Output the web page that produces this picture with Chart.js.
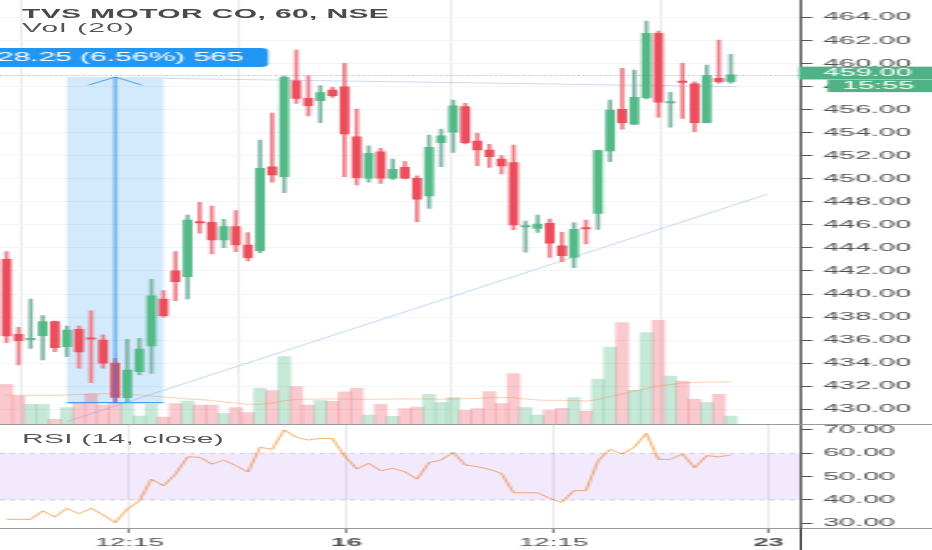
<!DOCTYPE html>
<html>
<head>
<meta charset="utf-8">
<script src="https://cdn.jsdelivr.net/npm/chart.js@4.4.1/dist/chart.umd.min.js"></script>
<style>
  html, body { margin: 0; padding: 0; background: #fff; overflow: hidden; }
  /* the reference screenshot is stretched sideways, so the whole chart is drawn narrow and scaled */
  #wrap { position: absolute; left: 0; top: 0; width: 373px; height: 550px;
          transform: scaleX(2.4987); transform-origin: 0 0;
          font-family: "Liberation Sans", Arial, sans-serif; }
  #cPrice { position: absolute; left: 0; top: 0; }
  #cRsi { position: absolute; left: 0; top: 425px; }
  .lbl { position: absolute; left: 8.8px; white-space: nowrap; line-height: 1; }
  .sep { position: absolute; left: 0; width: 373px; height: 1px; background: #9a9a9a; }
</style>
</head>
<body>
<div id="wrap">
  <canvas id="cPrice" width="373" height="425"></canvas>
  <canvas id="cRsi" width="373" height="125"></canvas>
  <div class="sep" style="top:424px"></div>
  <div class="sep" style="top:528px"></div>
  <div style="position:absolute;left:320px;top:528px;width:1px;height:22px;background:#555"></div>
  <div class="lbl" style="top:8px;font-size:12px;font-weight:bold;color:#4a4a4a;letter-spacing:0.15px">TVS MOTOR CO, 60, NSE</div>
  <div class="lbl" style="top:21.5px;font-size:12px;color:#555;letter-spacing:0.5px">Vol (20)</div>
  <div class="lbl" style="top:432.5px;font-size:12px;color:#555;letter-spacing:0.1px">RSI (14, close)</div>
</div>
<script>
// candles, one per hour
const opens  = [443.01,436.51,436.04,436.39,437.60,435.43,436.94,436.18,436.01,434.00,
                431.01,433.26,435.49,439.57,442.02,441.50,446.26,446.22,444.69,445.84,
                444.25,443.76,451.04,450.18,458.48,456.97,456.77,457.69,457.98,453.64,
                450.04,452.34,450.04,450.99,450.04,448.50,453.12,454.03,456.25,453.27,
                452.49,451.71,451.39,445.82,445.70,446.13,444.19,443.18,445.74,447.00,
                452.40,456.02,454.72,457.03,462.61,456.58,458.42,458.22,454.86,458.71,458.41];
const highs  = [443.67,437.11,439.57,438.12,437.65,437.23,437.23,438.55,436.45,434.43,
                436.07,436.16,441.28,440.29,443.67,446.85,447.96,447.63,446.48,447.23,
                445.32,453.36,455.70,458.91,461.16,458.93,458.07,457.93,460.01,456.05,
                452.86,452.64,451.71,451.48,450.24,453.79,454.31,456.83,456.54,453.94,
                452.99,452.00,452.92,446.33,446.85,446.51,445.35,446.19,446.42,452.49,
                456.83,459.58,459.43,463.68,462.81,457.50,460.01,458.41,459.86,462.03,460.79];
const lows   = [435.78,433.84,435.29,434.28,435.00,434.56,433.56,432.31,433.56,430.57,
                430.66,432.98,433.12,438.00,439.42,439.57,445.27,443.47,444.02,443.67,
                442.86,443.58,449.69,448.79,456.54,455.44,454.86,457.06,450.18,449.46,
                449.69,449.60,449.93,449.98,446.27,447.43,451.04,452.29,453.01,451.13,
                450.99,450.41,445.55,443.62,445.35,443.18,442.80,442.28,444.34,445.61,
                451.48,454.29,454.70,456.91,455.33,454.46,455.24,454.08,454.83,458.28,458.28];
const closes = [436.36,435.95,436.10,437.60,435.34,436.88,434.97,436.08,434.00,431.04,
                433.41,435.23,439.85,438.12,441.07,446.42,446.16,444.69,445.84,444.25,
                443.15,450.90,450.32,458.80,456.97,456.33,457.46,457.20,453.88,450.09,
                452.20,450.04,450.82,450.04,448.22,452.73,453.71,456.33,453.12,452.49,
                451.91,451.10,445.99,445.86,446.07,444.40,443.32,445.61,445.64,452.43,
                455.96,454.86,457.06,462.61,456.63,456.62,458.35,454.86,458.94,458.41,459.00];
// volume (thousands) and its 20-bar average
const volumes = [40.7,29,20.7,20.7,5.7,17.3,22,31,20,22,
                 21.5,9,20.7,8,21.3,24,20,20,11.5,17.3,
                 12.3,36.7,34.5,68.3,38.3,19.8,24.3,23.7,33.2,36.7,
                 10,20.7,8.7,16.5,18,30.7,22.3,27.3,14.7,16.5,
                 33.3,21.3,51.3,17.3,10,15,16.7,27.3,14,45.7,
                 78,102.3,34.7,92.3,104.7,49,44,25.7,22.3,30.7,9];
const volumeMA = [29.7,29.7,29.7,29.7,29.7,30,30.5,31,31.3,31.3,
                  31,30,29,28,27,26,25.5,24.5,23,22,
                  20.7,20.7,22,24.5,25.5,25.8,26,26,25.9,25.8,
                  25.7,25.8,26,26.1,26,25.9,25.8,26,26.3,26.5,
                  27.3,27.3,27.3,26,25,24.7,24.7,24.3,24,25.5,
                  28.5,31,34,36.5,39,40.5,42,42.5,43,43,43];
const rsiValues = [31.7,31.7,31.7,35.3,32.7,36.4,34.1,36.4,33.6,30.3,
                   36.1,39.6,48.9,46.1,51.1,58.5,58.3,55.4,57.1,54.7,
                   52.0,62.6,61.7,70.0,66.9,65.7,66.4,66.3,59.0,53.3,
                   55.7,52.5,53.6,52.1,48.9,56.0,57.1,60.4,55.0,54.3,
                   53.1,51.4,43.1,43.1,43.1,40.7,39.0,44.0,44.0,56.8,
                   61.7,59.7,62.6,68.6,57.4,57.4,59.7,53.8,59.0,58.5,59.3];

// axes
const timeTicks  = [10.17, 28.17, 45.31, 63.13];
const timeLabels = ['12:15', '16', '12:15', '23'];
const priceTicks = [430,432,434,436,438,440,442,444,446,448,450,452,454,456,458,460,462,464];
const rsiTicks   = [30, 40, 50, 60, 70];
const rsiBand    = [40, 60];
const lastPrice  = 459.00;
const lastTime   = '15:55';

// drawings on the chart
const measureIdx   = [5, 13];
const measurePrice = [430.57, 458.82];
const measureText  = '28.25 (6.56%) 565';
const trendRising  = [{x: 5, y: 428.93}, {x: 63.0, y: 448.65}];
const trendTop     = [{x: 13, y: 458.70}, {x: 60.5, y: 457.98}];

const GREEN = '#53b987', RED = '#eb4d5c';
const FONT = 'Liberation Sans';
const X_MIN = -0.5385, X_MAX = 65.74;
const AXIS_W = 52.8;

const idx = opens.map((_, i) => i);
const up = idx.map(i => closes[i] >= opens[i]);

function noPad(scale) {
  scale.paddingTop = 0; scale.paddingBottom = 0;
  scale.paddingLeft = 0; scale.paddingRight = 0;
}

const overlay = {
  id: 'overlay',
  beforeDatasetsDraw(chart) {
    const { ctx, scales: { x, y } } = chart;
    const x0 = x.getPixelForValue(measureIdx[0]), x1 = x.getPixelForValue(measureIdx[1]);
    const yT = y.getPixelForValue(measurePrice[1]), yB = y.getPixelForValue(measurePrice[0]);
    ctx.save();
    ctx.fillStyle = 'rgba(33,150,243,0.2)';
    ctx.fillRect(x0, yT, x1 - x0, yB - yT);
    ctx.restore();
  },
  afterDatasetsDraw(chart) {
    const { ctx, chartArea, scales: { x, y } } = chart;
    ctx.save();
    // last price line
    const yp = Math.round(y.getPixelForValue(lastPrice)) + 0.5;
    ctx.strokeStyle = 'rgba(110,130,160,0.5)';
    ctx.lineWidth = 1;
    ctx.setLineDash([1, 1.2]);
    ctx.beginPath(); ctx.moveTo(0, yp); ctx.lineTo(chartArea.right, yp); ctx.stroke();
    ctx.setLineDash([]);
    // price range tool
    const x0 = x.getPixelForValue(measureIdx[0]), x1 = x.getPixelForValue(measureIdx[1]);
    const cx = x.getPixelForValue((measureIdx[0] + measureIdx[1]) / 2);
    const yT = y.getPixelForValue(measurePrice[1]), yB = y.getPixelForValue(measurePrice[0]);
    ctx.strokeStyle = '#1e88e5';
    ctx.lineWidth = 1;
    ctx.beginPath(); ctx.moveTo(x0, yB); ctx.lineTo(x1, yB); ctx.stroke();
    ctx.lineWidth = 0.8;
    ctx.beginPath(); ctx.moveTo(cx, yB); ctx.lineTo(cx, yT); ctx.stroke();
    ctx.beginPath(); ctx.moveTo(cx - 10.6, yT + 8); ctx.lineTo(cx, yT); ctx.lineTo(cx + 10.6, yT + 8); ctx.stroke();
    ctx.fillStyle = '#2196f3';
    ctx.beginPath();
    ctx.roundRect(cx - 61.2, yT - 29, 122.4, 19, 3);
    ctx.fill();
    ctx.fillStyle = '#fff';
    ctx.font = '12px "' + FONT + '"';
    ctx.textAlign = 'center';
    ctx.textBaseline = 'middle';
    ctx.fillText(measureText, cx + 2, yT - 19.2);
    ctx.restore();
  },
  afterDraw(chart) {
    const { ctx, chartArea, scales: { y } } = chart;
    const yp = y.getPixelForValue(lastPrice);
    ctx.save();
    ctx.fillStyle = '#4fb286';
    ctx.fillRect(chartArea.right - 0.5, yp - 8.3, 60, 12.8);
    ctx.fillRect(chartArea.right + 11, yp + 4.8, 60, 12.4);
    ctx.fillStyle = '#fff';
    ctx.font = '11.5px "' + FONT + '"';
    ctx.textBaseline = 'middle';
    ctx.textAlign = 'left';
    ctx.fillText(lastPrice.toFixed(2), chartArea.right + 9.4, yp - 1.8);
    ctx.fillText(lastTime, chartArea.right + 16.8, yp + 11.2);
    ctx.restore();
  }
};

new Chart(document.getElementById('cPrice'), {
  data: {
    datasets: [
      { type: 'bar', label: 'Volume', yAxisID: 'yv', order: 5, grouped: false,
        data: idx.map(i => ({ x: i, y: volumes[i] })),
        backgroundColor: idx.map(i => up[i] ? 'rgba(83,185,135,0.33)' : 'rgba(235,77,92,0.30)'),
        barThickness: 4.83 },
      { type: 'line', label: 'Vol MA', yAxisID: 'yv', order: 4,
        data: idx.map(i => ({ x: i, y: volumeMA[i] })),
        borderColor: 'rgba(245,140,60,0.5)', borderWidth: 0.8, pointRadius: 0, tension: 0 },
      { type: 'line', label: 'trend', yAxisID: 'y', order: 3, data: trendRising,
        borderColor: 'rgba(110,160,230,0.55)', borderWidth: 0.8, pointRadius: 0 },
      { type: 'line', label: 'trend2', yAxisID: 'y', order: 3, data: trendTop,
        borderColor: 'rgba(110,150,230,0.45)', borderWidth: 0.8, pointRadius: 0 },
      { type: 'bar', label: 'wick', yAxisID: 'y', order: 2, grouped: false,
        data: idx.map(i => ({ x: i, y: [lows[i], highs[i]] })),
        backgroundColor: idx.map(i => up[i] ? '#7fb5a5' : '#ef7d88'),
        barThickness: 1 },
      { type: 'bar', label: 'body', yAxisID: 'y', order: 1, grouped: false,
        data: idx.map(i => ({ x: i, y: [opens[i], closes[i]] })),
        backgroundColor: idx.map(i => up[i] ? GREEN : RED),
        barThickness: 3.2, minBarLength: 1.3 }
    ]
  },
  options: {
    responsive: false, animation: false, devicePixelRatio: 1,
    layout: { padding: 0, autoPadding: false },
    plugins: { legend: { display: false }, tooltip: { enabled: false } },
    scales: {
      x: {
        type: 'linear', min: X_MIN, max: X_MAX, offset: false,
        grid: { color: '#ececec', drawTicks: false },
        border: { display: false },
        ticks: { display: false },
        afterBuildTicks: s => { s.ticks = timeTicks.map(v => ({ value: v })); },
        afterFit: s => { s.height = 0; noPad(s); }
      },
      y: {
        position: 'right', min: 428.64, max: 465.50,
        grid: { color: '#f3f4f7', tickColor: '#555', tickLength: 5 },
        border: { display: true, color: '#555', width: 1 },
        ticks: { color: '#505050', padding: 4.2, font: { family: FONT, size: 11.5 },
                 callback: v => v.toFixed(2) },
        afterBuildTicks: s => { s.ticks = priceTicks.map(v => ({ value: v })); },
        afterFit: s => { s.width = AXIS_W; noPad(s); }
      },
      yv: { display: false, min: 0, max: 425 }
    }
  },
  plugins: [overlay]
});

new Chart(document.getElementById('cRsi'), {
  data: {
    datasets: [
      { type: 'line', label: 'hi', data: [{ x: X_MIN, y: rsiBand[1] }, { x: X_MAX, y: rsiBand[1] }],
        borderColor: 'rgba(120,123,134,0.3)', borderWidth: 1, borderDash: [2, 2], pointRadius: 0, fill: false },
      { type: 'line', label: 'lo', data: [{ x: X_MIN, y: rsiBand[0] }, { x: X_MAX, y: rsiBand[0] }],
        borderColor: 'rgba(120,123,134,0.3)', borderWidth: 1, borderDash: [2, 2], pointRadius: 0,
        fill: 0, backgroundColor: 'rgba(149,76,233,0.12)' },
      { type: 'line', label: 'RSI', data: idx.map(i => ({ x: i, y: rsiValues[i] })),
        borderColor: '#f57c00', borderWidth: 0.6, pointRadius: 0, tension: 0, fill: false }
    ]
  },
  options: {
    responsive: false, animation: false, devicePixelRatio: 1,
    layout: { padding: 0, autoPadding: false },
    plugins: { legend: { display: false }, tooltip: { enabled: false } },
    scales: {
      x: {
        type: 'linear', min: X_MIN, max: X_MAX, offset: false,
        grid: { color: '#ececec', tickColor: '#888', tickLength: 5 },
        border: { display: false },
        ticks: { color: '#505050', padding: 3, autoSkip: false, maxRotation: 0,
                 font: c => ({ family: FONT, size: 11, weight: timeLabels[c.index] && timeLabels[c.index].indexOf(':') < 0 ? 'bold' : 'normal' }),
                 callback: (v, i) => timeLabels[i] },
        afterBuildTicks: s => { s.ticks = timeTicks.map(v => ({ value: v })); },
        afterFit: s => { s.height = 22; noPad(s); }
      },
      y: {
        position: 'right', min: 27.99, max: 72.14,
        grid: { color: 'rgba(0,0,0,0)', tickColor: '#555', tickLength: 5 },
        border: { display: true, color: '#555', width: 1 },
        ticks: { color: '#505050', padding: 4.2, font: { family: FONT, size: 11.5 },
                 callback: v => v.toFixed(2) },
        afterBuildTicks: s => { s.ticks = rsiTicks.map(v => ({ value: v })); },
        afterFit: s => { s.width = AXIS_W; noPad(s); }
      }
    }
  }
});
</script>
</body>
</html>
